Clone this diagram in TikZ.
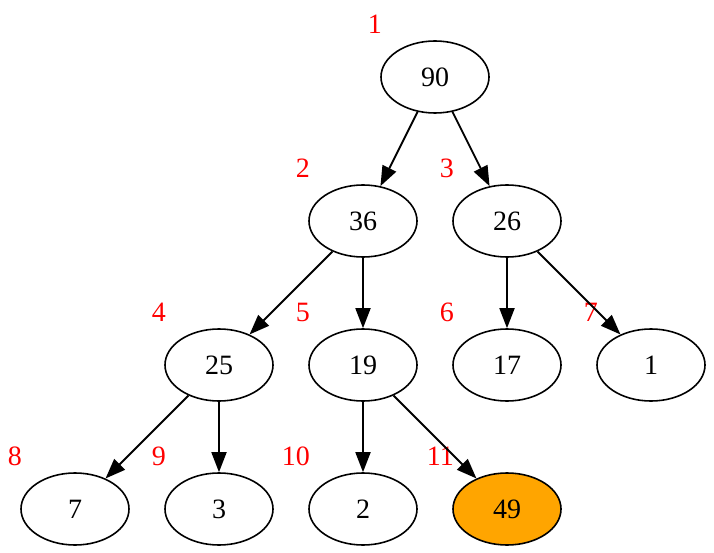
\documentclass[tikz,border=0pt]{standalone}
\usepackage{fontspec}
\setmainfont{Liberation Serif}
\usetikzlibrary{arrows.meta,shapes.geometric}
\definecolor{heaporange}{RGB}{255,165,0}
\tikzset{
  heap/.style={draw,ellipse,line width=1.6pt,minimum width=108pt,minimum height=72pt,inner sep=0pt,
    font=\fontsize{28}{30}\selectfont},
  idx/.style={text=red,inner sep=0pt,anchor=east,font=\fontsize{28}{30}\selectfont},
}

\begin{document}
\begin{tikzpicture}[x=1pt,y=-1pt,>={Triangle[length=20pt,width=15pt]},
   edge/.style={->,line width=1.8pt}]
  \useasboundingbox (0,0) rectangle (714,553);
  % heap nodes, index/value/x/y
  \foreach \i/\v/\x/\y in {1/90/435/77,2/36/363/221,3/26/507/221,4/25/219/365,5/19/363/365,
      6/17/507/365,7/1/651/365,8/7/75/509,9/3/219/509,10/2/363/509}
    \node[heap] (n\i) at (\x,\y) {\v};
  \node[heap,fill=heaporange] (n11) at (507,509) {49};
  % red array positions
  \foreach \i in {1,...,11}
    \node[idx] (i\i) at ([xshift=-53pt,yshift=53pt]n\i.center) {\i};
  \foreach \a/\b in {1/2,1/3,2/4,2/5,3/6,3/7,4/8,4/9,5/10,5/11}
    \draw[edge] (n\a) -- (n\b);
\end{tikzpicture}
\end{document}
